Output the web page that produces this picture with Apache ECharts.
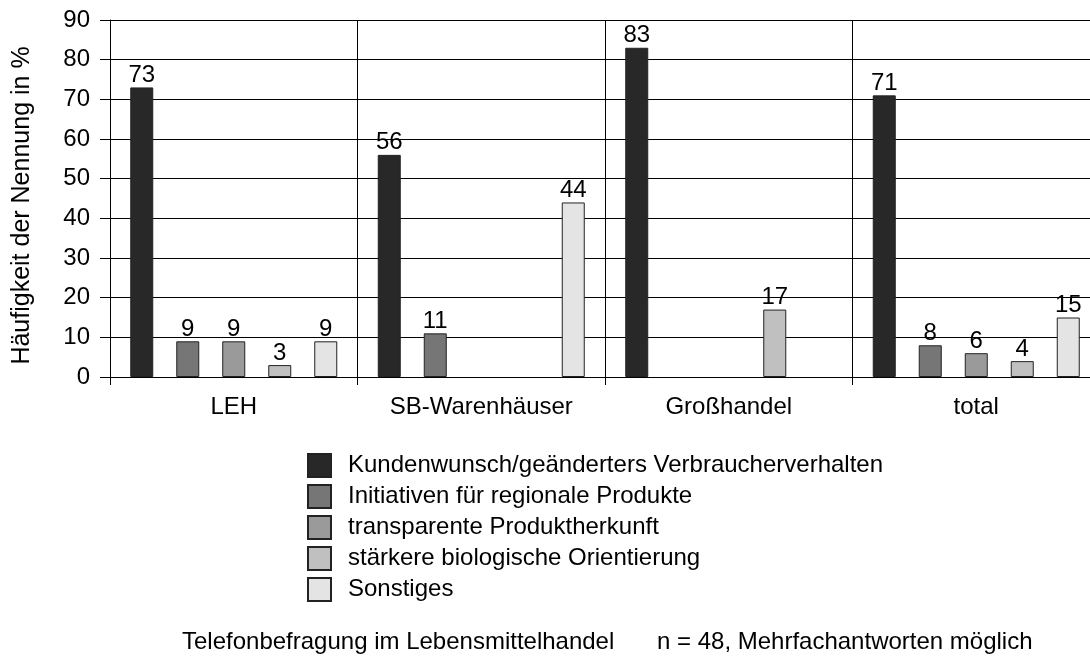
<!DOCTYPE html>
<html>
<head>
<meta charset="utf-8">
<script src="https://cdn.jsdelivr.net/npm/echarts@6/dist/echarts.min.js"></script>
<style>
  html, body { margin: 0; padding: 0; background: #fff; overflow: hidden; }
  #chart { width: 1100px; height: 659px; }
</style>
</head>
<body>
<div id="chart"></div>
<script>
// Daten
var categories = ["LEH", "SB-Warenhäuser", "Großhandel", "total"];
var seriesNames = [
  "Kundenwunsch/geänderters Verbraucherverhalten",
  "Initiativen für regionale Produkte",
  "transparente Produktherkunft",
  "stärkere biologische Orientierung",
  "Sonstiges"
];
var kundenwunsch = [73, 56, 83, 71];
var initiativen = [9, 11, "-", 8];
var transparenz = [9, "-", "-", 6];
var biologisch = [3, "-", 17, 4];
var sonstiges = [9, 44, "-", 15];
var yTicks = [0, 10, 20, 30, 40, 50, 60, 70, 80, 90];

var colors = ["#282828", "#767676", "#9a9a9a", "#c0c0c0", "#e4e4e4"];
var font = "Liberation Sans, Arial, sans-serif";
var fs = 24;

var myChart = echarts.init(document.getElementById("chart"));

var values = [kundenwunsch, initiativen, transparenz, biologisch, sonstiges];
var series = values.map(function (d, i) {
  return {
    name: seriesNames[i],
    type: "bar",
    data: d,
    barWidth: 23,
    barGap: "100%",
    itemStyle: { color: colors[i], borderColor: "#222", borderWidth: 1 },
    label: {
      show: true,
      position: "top",
      distance: 0,
      fontSize: fs,
      fontFamily: font,
      color: "#000"
    }
  };
});

// Plotbereich reicht etwas über den rechten Bildrand hinaus (wie im Original)
myChart.setOption({
  animation: false,
  textStyle: { fontFamily: font },
  grid: { left: 110, top: 20, width: 990, height: 357, containLabel: false },
  legend: {
    orient: "vertical",
    left: 302,
    top: 448,
    icon: "rect",
    itemWidth: 23,
    itemHeight: 23,
    itemGap: 6,
    data: seriesNames,
    textStyle: { fontSize: fs, fontFamily: font, color: "#000", padding: [0, 0, 0, 12] }
  },
  xAxis: {
    type: "category",
    data: categories,
    axisLine: { lineStyle: { color: "#000", width: 1 } },
    axisTick: { show: true, length: 8, interval: 0, lineStyle: { color: "#000" } },
    splitLine: { show: true, interval: 0, lineStyle: { color: "#000", width: 1 } },
    axisLabel: { fontSize: fs, fontFamily: font, color: "#000", margin: 18 }
  },
  yAxis: {
    type: "value",
    min: yTicks[0],
    max: yTicks[yTicks.length - 1],
    interval: 10,
    name: "Häufigkeit der Nennung in %",
    nameLocation: "middle",
    nameGap: 75,
    nameTextStyle: { fontSize: 25, fontFamily: font, color: "#000", padding: [0, 14, 0, 0] },
    axisLine: { show: true, lineStyle: { color: "#000", width: 1 } },
    axisTick: { show: true, length: 10, lineStyle: { color: "#000" } },
    splitLine: { show: true, lineStyle: { color: "#000", width: 1 } },
    axisLabel: { fontSize: fs, fontFamily: font, color: "#000", margin: 20 }
  },
  graphic: [
    {
      type: "text",
      left: 182,
      top: 630,
      style: { text: "Telefonbefragung im Lebensmittelhandel", fontSize: fs, fontFamily: font, fill: "#000" }
    },
    {
      type: "text",
      left: 657,
      top: 630,
      style: { text: "n = 48, Mehrfachantworten möglich", fontSize: fs, fontFamily: font, fill: "#000" }
    }
  ],
  series: series
});
</script>
</body>
</html>
